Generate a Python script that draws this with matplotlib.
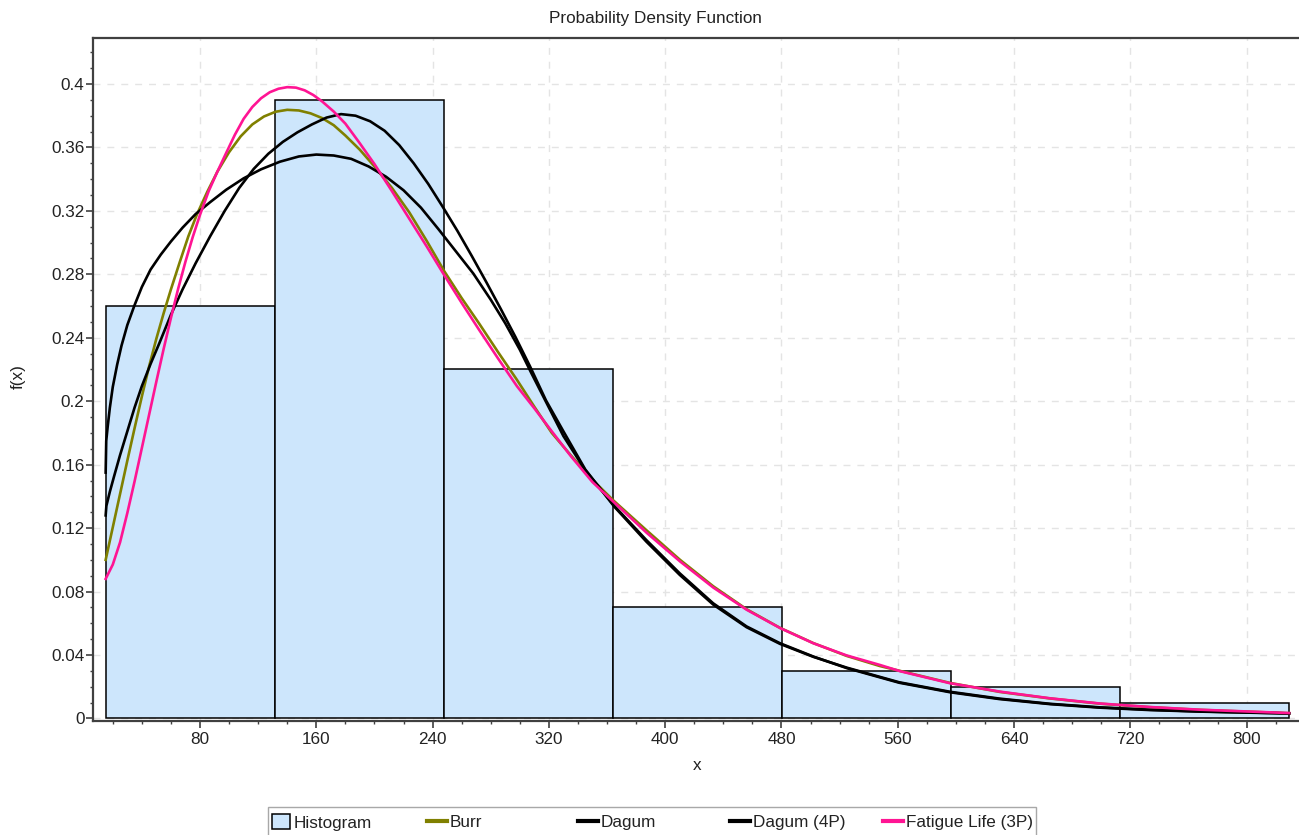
import numpy as np
import matplotlib
matplotlib.use("Agg")
import matplotlib.pyplot as plt
from matplotlib.patches import Patch, Rectangle
from matplotlib.lines import Line2D
from matplotlib.ticker import MultipleLocator, FuncFormatter

plt.rcParams['font.family'] = ['Liberation Sans', 'DejaVu Sans']
plt.rcParams['font.size'] = 12.3

# histogram (relative frequencies)
bin_edges = [15.1, 131.4, 247.7, 364.0, 480.3, 596.6, 712.9, 829.2]
hist_vals = [0.26, 0.39, 0.22, 0.07, 0.03, 0.02, 0.01]

# fitted densities
burr_x = [15.1, 20, 25, 30, 35, 40, 45, 50, 55, 60, 66, 72, 78, 85, 92, 100, 108, 116,
          124, 132, 140, 148, 156, 164, 172, 180, 190, 200, 212, 224, 236, 248, 260, 272,
          285, 298, 310, 322, 335, 350, 364.3, 387.3, 410.2, 433.1, 456.1, 479.0, 501.9,
          524.9, 547.8, 595.9, 630.3, 664.7, 699.1, 733.5, 767.9, 829.2]
burr_y = [0.100, 0.1205, 0.1415, 0.1625, 0.183, 0.203, 0.222, 0.2395, 0.2555, 0.2705, 0.2875,
          0.304, 0.318, 0.332, 0.3448, 0.357, 0.367, 0.3745, 0.3795, 0.3825, 0.3837, 0.3833,
          0.3815, 0.3785, 0.374, 0.3675, 0.3585, 0.348, 0.3345, 0.319, 0.301, 0.282, 0.265,
          0.249, 0.231, 0.2135, 0.1965, 0.180, 0.166, 0.1505, 0.1375, 0.1185, 0.100, 0.0833,
          0.0688, 0.0571, 0.0475, 0.0394, 0.0330, 0.0224, 0.0167, 0.0126, 0.0093, 0.0071,
          0.0054, 0.0033]

dagum_x = [15.1, 15.5, 16.5, 18, 20, 23, 26, 30, 35, 40, 46, 53, 60, 68, 77, 87, 98, 110,
           122, 135, 148, 160, 172, 184, 196, 208, 220, 232, 244, 256, 268, 280, 290, 300,
           308, 318, 330, 345, 365, 387, 410, 433, 456, 479, 502, 525, 561, 596, 630, 665,
           699, 733, 768, 829.2]
dagum_y = [0.155, 0.175, 0.184, 0.196, 0.209, 0.223, 0.235, 0.248, 0.2606, 0.272, 0.283,
           0.2924, 0.3007, 0.3094, 0.318, 0.3255, 0.3333, 0.3405, 0.3462, 0.351, 0.3543,
           0.3555, 0.3549, 0.3528, 0.348, 0.3415, 0.333, 0.322, 0.3085, 0.2945, 0.2805,
           0.264, 0.2491, 0.2325, 0.2176, 0.1996, 0.178, 0.1565, 0.134, 0.1125, 0.0915,
           0.0726, 0.058, 0.0474, 0.039, 0.0317, 0.0225, 0.0165, 0.0122, 0.009, 0.0068,
           0.0053, 0.0043, 0.0031]

dagum4p_x = [15.1, 15.6, 18, 21, 25, 30, 35, 40, 46, 52, 60, 68, 77, 87, 97, 107, 117, 127,
             137, 147, 157, 167, 177, 187, 197, 207, 217, 227, 237, 247, 257, 267, 277, 287,
             297, 307, 318, 330, 345, 365, 387, 410, 433, 456, 479, 502, 525, 561, 596, 630,
             665, 699, 733, 768, 829.2]
dagum4p_y = [0.128, 0.134, 0.143, 0.153, 0.166, 0.181, 0.196, 0.2095, 0.2235, 0.2365, 0.2545,
             0.2705, 0.287, 0.304, 0.320, 0.3345, 0.3465, 0.356, 0.3635, 0.3695, 0.3745, 0.3788,
             0.381, 0.380, 0.3765, 0.3705, 0.3615, 0.350, 0.337, 0.3225, 0.3075, 0.2915, 0.275,
             0.258, 0.2405, 0.222, 0.2005, 0.181, 0.157, 0.1335, 0.1115, 0.0905, 0.0718, 0.0575,
             0.047, 0.0388, 0.032, 0.0228, 0.0168, 0.0125, 0.0092, 0.007, 0.0055, 0.0044, 0.0032]

fatigue_x = [15.1, 20, 25, 30, 35, 40, 45, 50, 55, 60, 65, 70, 75, 80, 86, 92, 98, 104,
             110, 116, 122, 128, 134, 140, 146, 152, 158, 164, 172, 180, 190, 200, 212, 224,
             236, 248, 260, 272, 285, 298, 310, 322, 335, 350, 364.3, 387.3, 410.2, 433.1,
             456.1, 479.0, 501.9, 524.9, 547.8, 561.5, 595.9, 630.3, 664.7, 699.1, 733.5,
             767.9, 829.2]
fatigue_y = [0.088, 0.097, 0.111, 0.1295, 0.1495, 0.1705, 0.1915, 0.2125, 0.233, 0.2525, 0.271,
             0.288, 0.3035, 0.3175, 0.3325, 0.3448, 0.3565, 0.368, 0.378, 0.3855, 0.391, 0.3948,
             0.397, 0.398, 0.3977, 0.396, 0.393, 0.389, 0.3826, 0.375, 0.3625, 0.3495, 0.3325,
             0.315, 0.2975, 0.2795, 0.262, 0.245, 0.227, 0.2095, 0.1955, 0.181, 0.1655, 0.149,
             0.1367, 0.117, 0.099, 0.0825, 0.0685, 0.057, 0.0474, 0.0397, 0.0337, 0.0298,
             0.0222, 0.0169, 0.0127, 0.0094, 0.0072, 0.0055, 0.0034]

hist_color = '#cde6fc'
burr_color = '#808000'
dagum_color = '#000000'
fatigue_color = '#ff1493'
axis_color = '#404040'
text_color = '#222222'

fig = plt.figure(figsize=(12.99, 8.35), dpi=100)
ax = fig.add_axes([93.3 / 1299, 1 - 720.5 / 835, (1299 - 93.3) / 1299, (720.5 - 37.5) / 835])

widths = np.diff(bin_edges)
ax.bar(bin_edges[:-1], hist_vals, width=widths, align='edge',
       color=hist_color, edgecolor='black', linewidth=1.1, zorder=2)

lw = 1.9
ax.plot(burr_x, burr_y, color=burr_color, lw=lw, zorder=3)
ax.plot(dagum_x, dagum_y, color=dagum_color, lw=lw, zorder=3)
ax.plot(dagum4p_x, dagum4p_y, color=dagum_color, lw=lw, zorder=3)
ax.plot(fatigue_x, fatigue_y, color=fatigue_color, lw=lw, zorder=4)

ax.set_xlim(6.6, 836.0)
ax.set_ylim(-0.0013, 0.4293)

ax.xaxis.set_major_locator(MultipleLocator(80))
ax.xaxis.set_minor_locator(MultipleLocator(20))
ax.yaxis.set_major_locator(MultipleLocator(0.04))
ax.yaxis.set_minor_locator(MultipleLocator(0.01))
ax.yaxis.set_major_formatter(FuncFormatter(lambda v, p: '{:g}'.format(round(v, 2))))

ax.grid(True, which='major', ls=(0, (5, 5)), color='#e4e4e4', lw=1.0)
ax.set_axisbelow(True)

for side in ['top', 'left', 'bottom']:
    ax.spines[side].set_linewidth(1.6)
    ax.spines[side].set_color(axis_color)
ax.spines['right'].set_visible(False)

ax.tick_params(which='major', direction='out', length=4.8, width=1.2, color=axis_color,
               labelcolor=text_color)
ax.tick_params(which='minor', direction='out', length=2.3, width=1.0, color=axis_color)
ax.tick_params(axis='y', which='major', pad=1.5)
ax.tick_params(axis='x', which='major', pad=3.5)

ax.set_xlabel('x', color=text_color)
ax.set_ylabel('f(x)', color=text_color)
ax.xaxis.set_label_coords(0.5007, -0.0666)
ax.xaxis.label.set_va('center')
ax.yaxis.set_label_coords(-0.0625, 0.503)
ax.yaxis.label.set_va('center')

fig.text(0.5048, 1 - 18.3 / 835, 'Probability Density Function', ha='center', va='center',
         color=text_color)

# legend: fixed-width slots inside one frame along the bottom edge
fig.patches.append(Rectangle((268 / 1299, -0.02), (1036 - 268) / 1299, 0.02 + (835 - 807) / 835,
                             transform=fig.transFigure, fill=False, edgecolor='#a8a8a8',
                             linewidth=1.0))
handles = [
    Patch(facecolor=hist_color, edgecolor='black', linewidth=1.1),
    Line2D([], [], color=burr_color, lw=3),
    Line2D([], [], color=dagum_color, lw=3),
    Line2D([], [], color=dagum_color, lw=3),
    Line2D([], [], color=fatigue_color, lw=3),
]
labels = ['Histogram', 'Burr', 'Dagum', 'Dagum (4P)', 'Fatigue Life (3P)']
slot_x = [272, 427, 578, 730, 883]
for h, lab, sx in zip(handles, labels, slot_x):
    is_patch = isinstance(h, Patch)
    leg = fig.legend([h], [lab], loc='center left', bbox_to_anchor=(sx / 1299, 1 - 822.5 / 835),
                     frameon=False, borderpad=0, borderaxespad=0,
                     handlelength=1.05 if is_patch else 1.15,
                     handleheight=0.95 if is_patch else 0.7, handletextpad=0.2)
    for t in leg.get_texts():
        t.set_color(text_color)

fig.savefig('out.png', dpi=100)
